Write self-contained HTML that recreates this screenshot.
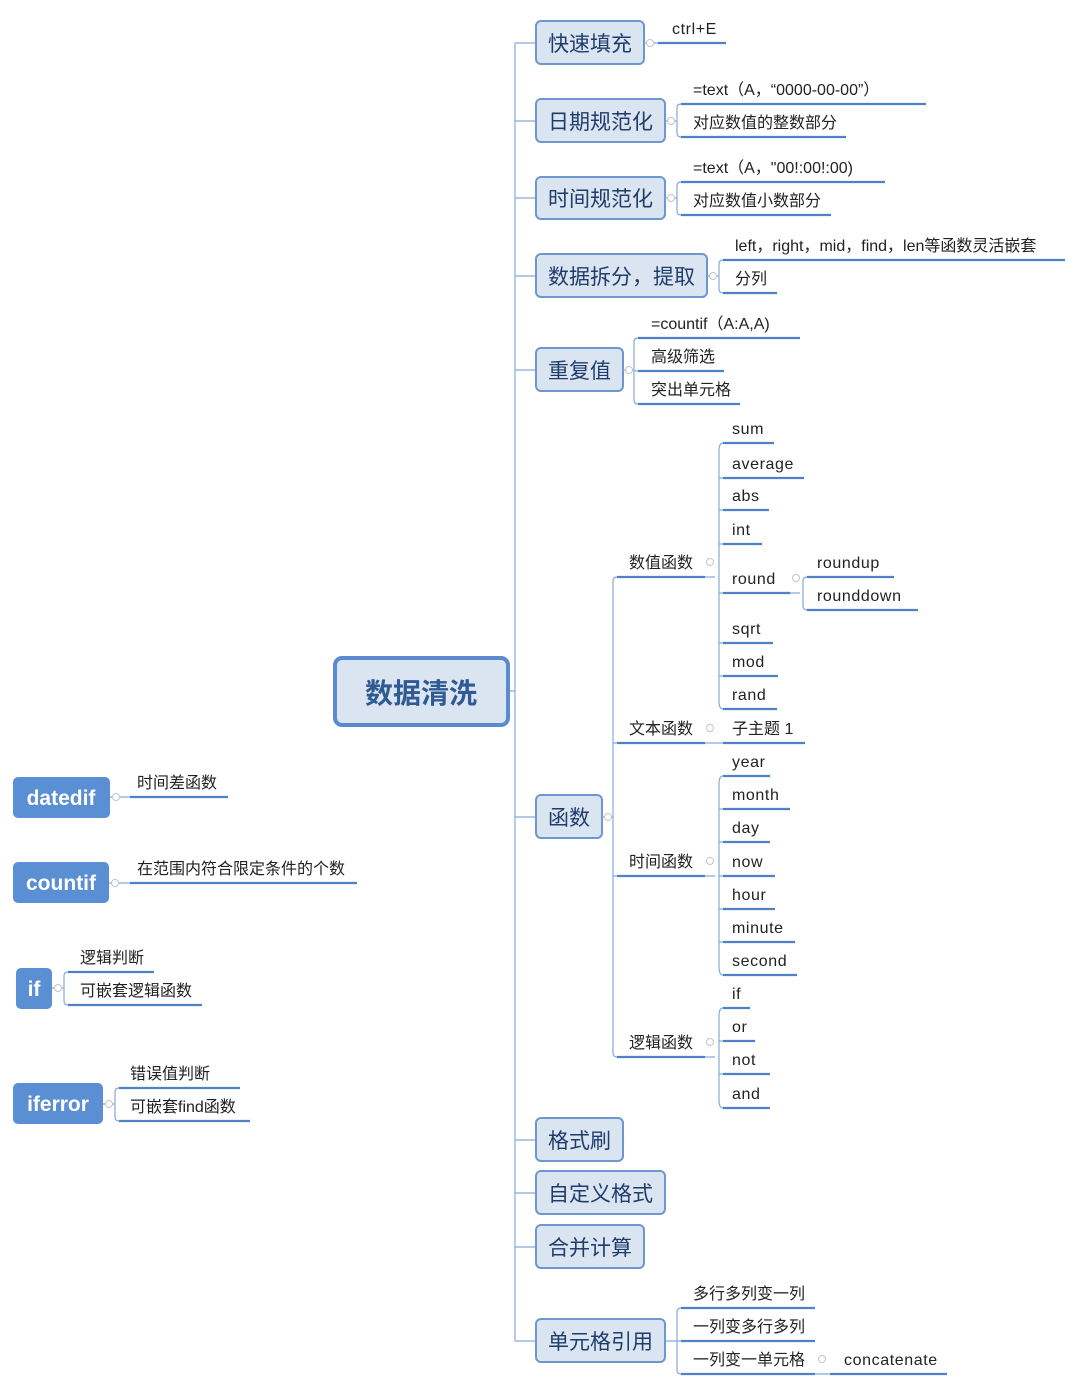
<!DOCTYPE html>
<html><head><meta charset="utf-8"><style>
html,body{margin:0;padding:0;background:#fff;}
svg{display:block;}
text{font-family:"Liberation Sans","Noto Sans CJK SC",sans-serif;}
.l{font-size:16px;fill:#222;}
.e{letter-spacing:0.6px;}
.m{font-size:21px;fill:#1f3d6b;}
.c{stroke:#86a9da;stroke-width:1.2;fill:none;}
.u{stroke:#4f81c7;stroke-width:2.2;}
.b{fill:#dbe5f1;stroke:#6d97cf;stroke-width:2;}
.w{fill:#5b8fd4;}
.wt{font-size:21px;font-weight:bold;fill:#fff;}
.o{fill:#fff;stroke:#c4c4c4;stroke-width:1;}
</style></head><body>
<svg width="1080" height="1388" viewBox="0 0 1080 1388" xmlns="http://www.w3.org/2000/svg">
<path class="c" d="M515 43 V1341 M509 691 H515 M515 43 H536 M515 121 H536 M515 198 H536 M515 276 H536 M515 370 H536 M515 817 H536 M515 1140 H536 M515 1193 H536 M515 1247 H536 M515 1341 H536"/>
<rect x="335" y="658" width="173" height="67" rx="7" fill="#dbe5f1" stroke="#5b8ad0" stroke-width="4"/>
<text x="421" y="703" text-anchor="middle" style="font-size:28px;font-weight:bold;fill:#2f5a94">数据清洗</text>

<rect class="b" x="536" y="21" width="108" height="43" rx="5"/><text class="m" x="548" y="51">快速填充</text>
<rect class="b" x="536" y="99" width="129" height="43" rx="5"/><text class="m" x="548" y="129">日期规范化</text>
<rect class="b" x="536" y="177" width="129" height="42" rx="5"/><text class="m" x="548" y="206">时间规范化</text>
<rect class="b" x="536" y="254" width="171" height="43" rx="5"/><text class="m" x="548" y="284">数据拆分，提取</text>
<rect class="b" x="536" y="348" width="87" height="43" rx="5"/><text class="m" x="548" y="378">重复值</text>
<rect class="b" x="536" y="795" width="66" height="43" rx="5"/><text class="m" x="548" y="825">函数</text>
<rect class="b" x="536" y="1118" width="87" height="43" rx="5"/><text class="m" x="548" y="1148">格式刷</text>
<rect class="b" x="536" y="1171" width="129" height="43" rx="5"/><text class="m" x="548" y="1201">自定义格式</text>
<rect class="b" x="536" y="1225" width="108" height="43" rx="5"/><text class="m" x="548" y="1255">合并计算</text>
<rect class="b" x="536" y="1319" width="129" height="43" rx="5"/><text class="m" x="548" y="1349">单元格引用</text>

<path class="c" d="
M644 43 H658
M665 121 H677 M681 104 Q677 104 677 108 V133 Q677 137 681 137
M665 198 H677 M681 182 Q677 182 677 186 V211 Q677 215 681 215
M707 276 H719 M723 260 Q719 260 719 264 V289 Q719 293 723 293
M623 370 H634 M638 338 Q634 338 634 342 V400 Q634 404 638 404 M634 371 H638
M602 817 H613 M617 577 Q613 577 613 581 V1053 Q613 1057 617 1057 M613 743 H617 M613 876 H617
M705 577 H715 M723 443 Q719 443 719 451 V701 Q719 709 723 709 M719 478 H723 M719 510 H723 M719 544 H723 M719 593 H723 M719 643 H723 M719 676 H723
M790 593 H800 M807 577 Q803 577 803 581 V606 Q803 610 807 610
M705 743 H723
M705 876 H715 M723 776 Q719 776 719 784 V967 Q719 975 723 975 M719 809 H723 M719 842 H723 M719 876 H723 M719 909 H723 M719 942 H723
M705 1057 H715 M723 1008 Q719 1008 719 1016 V1100 Q719 1108 723 1108 M719 1041 H723 M719 1074 H723
M665 1341 H677 M681 1308 Q677 1308 677 1312 V1370 Q677 1374 681 1374 M677 1341 H681
M815 1374 H830
M110 797 H130 M109 883 H130
M52 988 H64 M68 972 Q64 972 64 976 V1001 Q64 1005 68 1005
M103 1104 H115 M119 1088 Q115 1088 115 1092 V1117 Q115 1121 119 1121
"/>

<path class="u" d="
M658 43 H726
M681 104 H926 M681 137 H846
M681 182 H885 M681 215 H831
M723 260 H1065 M723 293 H777
M638 338 H800 M638 371 H724 M638 404 H740
M617 577 H705 M617 743 H705 M617 876 H705 M617 1057 H705
M723 443 H774 M723 478 H804 M723 510 H769 M723 544 H762 M723 593 H790 M723 643 H773 M723 676 H778 M723 709 H777
M807 577 H894 M807 610 H918
M723 743 H805
M723 776 H770 M723 809 H790 M723 842 H770 M723 876 H775 M723 909 H775 M723 942 H795 M723 975 H797
M723 1008 H750 M723 1041 H755 M723 1074 H770 M723 1108 H770
M681 1308 H815 M681 1341 H815 M681 1374 H815 M830 1374 H947
M130 797 H228 M130 883 H357
M68 972 H154 M68 1005 H202
M119 1088 H240 M119 1121 H250
"/>

<g>
<circle class="o" cx="650" cy="43" r="3.5"/><circle class="o" cx="671" cy="121" r="3.5"/><circle class="o" cx="671" cy="198" r="3.5"/><circle class="o" cx="713" cy="276" r="3.5"/><circle class="o" cx="629" cy="370" r="3.5"/><circle class="o" cx="608" cy="817" r="3.5"/><circle class="o" cx="710" cy="562" r="3.5"/><circle class="o" cx="710" cy="728" r="3.5"/><circle class="o" cx="710" cy="861" r="3.5"/><circle class="o" cx="710" cy="1042" r="3.5"/><circle class="o" cx="796" cy="578" r="3.5"/><circle class="o" cx="822" cy="1359" r="3.5"/><circle class="o" cx="116" cy="797" r="3.5"/><circle class="o" cx="115" cy="883" r="3.5"/><circle class="o" cx="58" cy="988" r="3.5"/><circle class="o" cx="109" cy="1104" r="3.5"/>
</g>

<text class="l e" x="672" y="34">ctrl+E</text>
<text class="l" x="693" y="95">=text（A，“0000-00-00”）</text>
<text class="l" x="693" y="128">对应数值的整数部分</text>
<text class="l" x="693" y="173">=text（A，"00!:00!:00)</text>
<text class="l" x="693" y="206">对应数值小数部分</text>
<text class="l" x="735" y="251">left，right，mid，find，len等函数灵活嵌套</text>
<text class="l" x="735" y="284">分列</text>
<text class="l" x="651" y="329">=countif（A:A,A)</text>
<text class="l" x="651" y="362">高级筛选</text>
<text class="l" x="651" y="395">突出单元格</text>
<text class="l" x="629" y="568">数值函数</text>
<text class="l" x="629" y="734">文本函数</text>
<text class="l" x="629" y="867">时间函数</text>
<text class="l" x="629" y="1048">逻辑函数</text>
<text class="l e" x="732" y="434">sum</text>
<text class="l e" x="732" y="469">average</text>
<text class="l e" x="732" y="501">abs</text>
<text class="l e" x="732" y="535">int</text>
<text class="l e" x="732" y="584">round</text>
<text class="l e" x="732" y="634">sqrt</text>
<text class="l e" x="732" y="667">mod</text>
<text class="l e" x="732" y="700">rand</text>
<text class="l e" x="817" y="568">roundup</text>
<text class="l e" x="817" y="601">rounddown</text>
<text class="l" x="732" y="734">子主题 1</text>
<text class="l e" x="732" y="767">year</text>
<text class="l e" x="732" y="800">month</text>
<text class="l e" x="732" y="833">day</text>
<text class="l e" x="732" y="867">now</text>
<text class="l e" x="732" y="900">hour</text>
<text class="l e" x="732" y="933">minute</text>
<text class="l e" x="732" y="966">second</text>
<text class="l e" x="732" y="999">if</text>
<text class="l e" x="732" y="1032">or</text>
<text class="l e" x="732" y="1065">not</text>
<text class="l e" x="732" y="1099">and</text>
<text class="l" x="693" y="1299">多行多列变一列</text>
<text class="l" x="693" y="1332">一列变多行多列</text>
<text class="l" x="693" y="1365">一列变一单元格</text>
<text class="l e" x="844" y="1365">concatenate</text>

<rect class="w" x="13" y="777" width="97" height="41" rx="5"/><text class="wt" x="61" y="805" text-anchor="middle">datedif</text>
<text class="l" x="137" y="788">时间差函数</text>
<rect class="w" x="13" y="862" width="96" height="41" rx="5"/><text class="wt" x="61" y="890" text-anchor="middle">countif</text>
<text class="l" x="137" y="874">在范围内符合限定条件的个数</text>
<rect class="w" x="16" y="968" width="36" height="41" rx="5"/><text class="wt" x="34" y="996" text-anchor="middle">if</text>
<text class="l" x="80" y="963">逻辑判断</text>
<text class="l" x="80" y="996">可嵌套逻辑函数</text>
<rect class="w" x="13" y="1083" width="90" height="41" rx="5"/><text class="wt" x="58" y="1111" text-anchor="middle">iferror</text>
<text class="l" x="130" y="1079">错误值判断</text>
<text class="l" x="130" y="1112">可嵌套find函数</text>
</svg>
</body></html>
